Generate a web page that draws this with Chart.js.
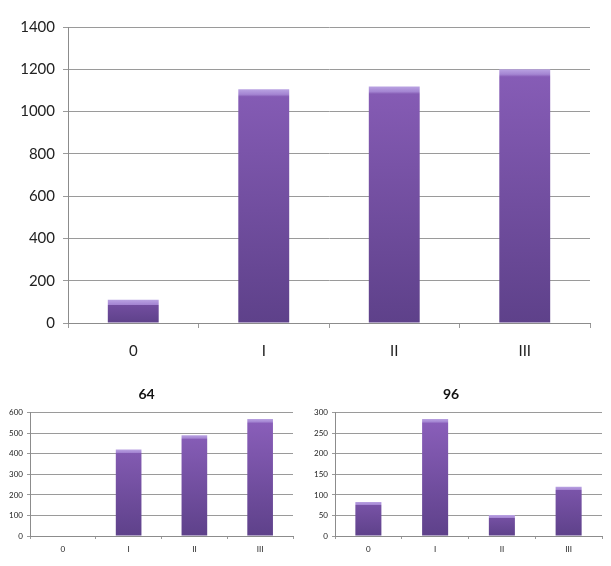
<!DOCTYPE html>
<html>
<head>
<meta charset="utf-8">
<script src="https://cdn.jsdelivr.net/npm/chart.js@4/dist/chart.umd.min.js"></script>
<style>
  html, body { margin: 0; padding: 0; background: #fff; }
  body { width: 611px; height: 566px; position: relative; overflow: hidden; }
  .box { position: absolute; }
  #boxMain { left: 0; top: 0; width: 611px; height: 366px; }
  #boxA { left: 0; top: 380px; width: 300px; height: 186px; }
  #boxB { left: 300px; top: 380px; width: 311px; height: 186px; }
</style>
</head>
<body>
<div class="box" id="boxMain"><canvas id="mainChart"></canvas></div>
<div class="box" id="boxA"><canvas id="chart64"></canvas></div>
<div class="box" id="boxB"><canvas id="chart96"></canvas></div>
<script>
// categorias (eixo x)
const categorias = ["0", "I", "II", "III"];

// valores
const valoresTotal = [110, 1105, 1118, 1200];
const valores64 = [3, 421, 491, 570];
const valores96 = [83, 285, 51, 120];

// títulos dos gráficos pequenos
const titulo64 = "64";
const titulo96 = "96";

const fonte = "Lato, 'Open Sans', sans-serif";

// gradiente roxo por barra: faixa clara no topo, escurece para baixo
function roxo(ctx, cap) {
  const chart = ctx.chart;
  const area = chart.chartArea;
  if (!area || ctx.parsed === undefined) return "#7a55a8";
  const y = chart.scales.y;
  const topo = y.getPixelForValue(ctx.parsed.y);
  const base = y.getPixelForValue(0);
  const h = base - topo;
  if (h < 1) return "#9a9a9a";
  const g = chart.ctx.createLinearGradient(0, topo, 0, base);
  const f = Math.min(cap / h, 0.5);
  // cor inicial depende da altura relativa (barras baixas começam mais escuras)
  const rel = (topo - area.top) / (area.bottom - area.top);
  const mix = (a, b, t) => Math.round(a + (b - a) * t);
  const r = mix(0x8a, 0x5e, rel * 0.6), gg = mix(0x5f, 0x41, rel * 0.6), b = mix(0xba, 0x8a, rel * 0.6);
  g.addColorStop(0, "#b9a2e2");
  g.addColorStop(f, "#a485d2");
  g.addColorStop(Math.min(f + 0.01, 1), `rgb(${r},${gg},${b})`);
  g.addColorStop(1, "#5e418a");
  return g;
}

function criarGrafico(id, valores, cfg) {
  const c = document.getElementById(id).getContext("2d");
  return new Chart(c, {
    type: "bar",
    data: {
      labels: categorias,
      datasets: [{
        data: valores,
        backgroundColor: (ctx) => roxo(ctx, cfg.cap),
        borderWidth: 0,
        categoryPercentage: 1,
        barPercentage: 0.39,
      }],
    },
    options: {
      responsive: true,
      maintainAspectRatio: false,
      animation: false,
      layout: { padding: cfg.padding },
      plugins: {
        legend: { display: false },
        tooltip: { enabled: false },
        title: cfg.titulo ? {
          display: true,
          text: cfg.titulo,
          color: "#111",
          font: { family: fonte, size: cfg.tituloSize, weight: "bold" },
          padding: cfg.tituloPad,
        } : { display: false },
      },
      scales: {
        x: {
          z: -1,
          grid: {
            offset: true,
            drawOnChartArea: false,
            drawTicks: true,
            tickLength: cfg.tickLen,
            color: "#9a9a9a",
          },
          border: { color: "#8c8c8c" },
          ticks: {
            color: "#222",
            padding: cfg.xPad,
            font: { family: fonte, size: cfg.xFont },
          },
          afterFit: (s) => { s.height = cfg.xHeight; },
        },
        y: {
          z: -1,
          min: 0,
          max: cfg.max,
          ticks: {
            stepSize: cfg.step,
            color: "#222",
            padding: cfg.yPad,
            font: { family: fonte, size: cfg.yFont },
            callback: (v) => String(v),
          },
          grid: { color: "#9a9a9a", tickLength: cfg.tickLen },
          border: { color: "#8c8c8c" },
          afterFit: (s) => { s.width = cfg.yWidth; },
        },
      },
    },
  });
}

// gráfico principal
criarGrafico("mainChart", valoresTotal, {
  max: 1400, step: 200, cap: 5,
  padding: { top: 27, right: 21, left: 0, bottom: 0 },
  xHeight: 43, yWidth: 68,
  xFont: 15, yFont: 15, xPad: 14, yPad: 8, tickLen: 5,
});

// gráfico 64
criarGrafico("chart64", valores64, {
  max: 600, step: 100, cap: 3, titulo: titulo64, tituloSize: 14,
  tituloPad: { top: 6, bottom: 10 },
  padding: { top: 0, right: 7, left: 0, bottom: 0 },
  xHeight: 30, yWidth: 30,
  xFont: 8, yFont: 8, xPad: 6, yPad: 4, tickLen: 3,
});

// gráfico 96
criarGrafico("chart96", valores96, {
  max: 300, step: 50, cap: 3, titulo: titulo96, tituloSize: 14,
  tituloPad: { top: 6, bottom: 10 },
  padding: { top: 0, right: 9, left: 0, bottom: 0 },
  xHeight: 30, yWidth: 35,
  xFont: 8, yFont: 8, xPad: 6, yPad: 4, tickLen: 3,
});
</script>
</body>
</html>
